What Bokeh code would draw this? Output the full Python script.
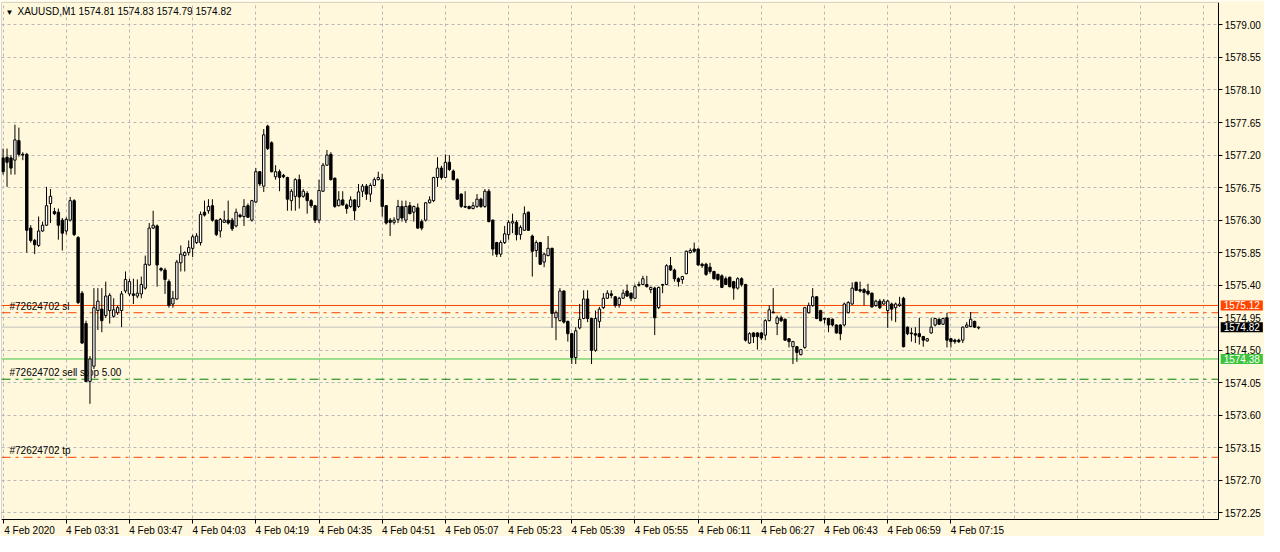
from bokeh.plotting import figure
from bokeh.models import (ColumnDataSource, Span, Label, FixedTicker, Range1d, LinearAxis,
                          PrintfTickFormatter, BoxAnnotation)
from bokeh.embed import file_html
from bokeh.resources import INLINE

# ---------------- data (XAUUSD, M1, 4 Feb 2020 03:15 .. 07:22) ----------------
symbol = "XAUUSD,M1"
minute = list(range(248))  # bar index, minutes after 03:15

open_ = [
    1577.16, 1577.17, 1577.16, 1577.13, 1577.40, 1577.21, 1577.21, 1576.19, 1576.02, 1575.95,
    1576.15, 1576.23, 1576.53, 1576.42, 1576.41, 1576.30, 1576.15, 1576.30, 1576.57, 1576.06,
    1575.29, 1574.87, 1574.07, 1574.28, 1575.05, 1575.07, 1574.98, 1575.05, 1574.97, 1575.02,
    1575.05, 1575.32, 1575.28, 1575.28, 1575.25, 1575.28, 1575.36, 1575.68, 1576.19, 1576.22,
    1575.63, 1575.61, 1575.45, 1575.14, 1575.21, 1575.71, 1575.81, 1575.85, 1575.91, 1575.99,
    1575.99, 1576.41, 1576.43, 1576.50, 1576.30, 1576.15, 1576.27, 1576.30, 1576.30, 1576.22,
    1576.37, 1576.35, 1576.50, 1576.30, 1576.55, 1576.97, 1576.77, 1577.60, 1577.37, 1576.90,
    1576.97, 1576.92, 1576.89, 1576.57, 1576.63, 1576.86, 1576.63, 1576.67, 1576.57, 1576.50,
    1576.30, 1576.70, 1577.06, 1577.21, 1576.88, 1576.50, 1576.58, 1576.51, 1576.49, 1576.58,
    1576.49, 1576.70, 1576.77, 1576.66, 1576.78, 1576.86, 1576.86, 1576.50, 1576.30, 1576.27,
    1576.31, 1576.49, 1576.30, 1576.50, 1576.41, 1576.47, 1576.28, 1576.30, 1576.54, 1576.57,
    1576.89, 1577.02, 1576.89, 1577.10, 1576.98, 1576.86, 1576.66, 1576.49, 1576.49, 1576.46,
    1576.49, 1576.59, 1576.49, 1576.70, 1576.30, 1575.99, 1575.83, 1575.99, 1576.10, 1576.26,
    1576.27, 1576.10, 1576.16, 1576.41, 1576.08, 1575.88, 1575.99, 1575.72, 1575.81, 1575.91,
    1574.95, 1574.91, 1575.32, 1574.90, 1574.73, 1574.40, 1574.81, 1574.94, 1575.21, 1574.94,
    1574.50, 1574.90, 1575.09, 1575.22, 1575.28, 1575.24, 1575.13, 1575.22, 1575.32, 1575.29,
    1575.22, 1575.41, 1575.41, 1575.41, 1575.34, 1575.36, 1575.09, 1575.40, 1575.41, 1575.67,
    1575.61, 1575.49, 1575.48, 1575.56, 1575.85, 1575.90, 1575.90, 1575.69, 1575.69, 1575.65,
    1575.59, 1575.55, 1575.53, 1575.49, 1575.51, 1575.45, 1575.36, 1575.49, 1575.41, 1574.60,
    1574.74, 1574.74, 1574.74, 1574.71, 1574.91, 1575.03, 1574.87, 1574.95, 1574.93, 1574.66,
    1574.55, 1574.55, 1574.44, 1574.54, 1575.02, 1575.12, 1575.24, 1575.05, 1574.94, 1574.94,
    1574.93, 1574.85, 1574.85, 1574.85, 1575.02, 1575.14, 1575.44, 1575.34, 1575.34, 1575.32,
    1575.29, 1575.12, 1575.18, 1575.14, 1575.05, 1575.14, 1575.09, 1575.12, 1575.22, 1574.82,
    1574.74, 1574.73, 1574.73, 1574.69, 1574.63, 1574.74, 1574.85, 1574.93, 1574.86, 1574.95,
    1574.66, 1574.64, 1574.64, 1574.64, 1574.82, 1574.83, 1574.90, 1574.81,
]
high = [
    1577.29, 1577.29, 1577.20, 1577.62, 1577.58, 1577.24, 1577.23, 1576.23, 1576.04, 1576.35,
    1576.28, 1576.76, 1576.73, 1576.47, 1576.46, 1576.33, 1576.34, 1576.62, 1576.59, 1576.08,
    1575.32, 1574.91, 1574.42, 1575.36, 1575.36, 1575.36, 1575.45, 1575.29, 1575.22, 1575.12,
    1575.32, 1575.59, 1575.49, 1575.49, 1575.48, 1575.52, 1575.81, 1576.26, 1576.43, 1576.24,
    1575.65, 1575.64, 1575.48, 1575.32, 1575.75, 1575.95, 1575.87, 1576.02, 1576.10, 1576.12,
    1576.42, 1576.57, 1576.59, 1576.59, 1576.31, 1576.33, 1576.43, 1576.57, 1576.33, 1576.46,
    1576.39, 1576.59, 1576.53, 1576.58, 1577.02, 1576.98, 1577.56, 1577.62, 1577.39, 1577.06,
    1577.00, 1576.94, 1576.90, 1576.73, 1576.88, 1576.93, 1576.73, 1576.70, 1576.59, 1576.51,
    1576.86, 1577.09, 1577.27, 1577.24, 1576.89, 1576.70, 1576.70, 1576.53, 1576.63, 1576.59,
    1576.80, 1576.80, 1576.80, 1576.81, 1576.89, 1576.97, 1576.94, 1576.51, 1576.33, 1576.34,
    1576.58, 1576.57, 1576.57, 1576.55, 1576.50, 1576.53, 1576.31, 1576.55, 1576.63, 1576.90,
    1577.17, 1577.05, 1577.21, 1577.20, 1577.00, 1576.88, 1576.67, 1576.70, 1576.50, 1576.55,
    1576.66, 1576.61, 1576.73, 1576.73, 1576.31, 1576.00, 1576.02, 1576.22, 1576.30, 1576.39,
    1576.30, 1576.23, 1576.49, 1576.42, 1576.10, 1576.02, 1576.00, 1575.85, 1576.08, 1575.92,
    1575.05, 1575.36, 1575.33, 1574.91, 1574.74, 1574.82, 1575.14, 1575.33, 1575.33, 1574.95,
    1575.05, 1575.10, 1575.29, 1575.33, 1575.33, 1575.25, 1575.24, 1575.34, 1575.41, 1575.30,
    1575.41, 1575.45, 1575.53, 1575.53, 1575.38, 1575.38, 1575.38, 1575.42, 1575.69, 1575.79,
    1575.63, 1575.51, 1575.53, 1575.88, 1575.91, 1575.99, 1575.91, 1575.71, 1575.71, 1575.71,
    1575.60, 1575.56, 1575.55, 1575.52, 1575.52, 1575.46, 1575.51, 1575.51, 1575.42, 1574.75,
    1574.75, 1574.75, 1574.75, 1574.93, 1575.12, 1575.36, 1574.98, 1574.98, 1574.94, 1574.67,
    1574.63, 1574.56, 1574.52, 1575.10, 1575.16, 1575.36, 1575.25, 1575.06, 1574.95, 1574.95,
    1574.94, 1574.86, 1574.86, 1575.16, 1575.18, 1575.44, 1575.45, 1575.45, 1575.36, 1575.42,
    1575.30, 1575.20, 1575.21, 1575.21, 1575.20, 1575.16, 1575.16, 1575.24, 1575.24, 1574.83,
    1574.81, 1574.82, 1574.95, 1574.70, 1574.67, 1574.95, 1574.95, 1574.94, 1574.95, 1575.02,
    1574.67, 1574.66, 1574.66, 1574.83, 1574.89, 1575.03, 1574.91, 1574.83,
]
low = [
    1576.93, 1576.76, 1576.93, 1576.93, 1577.18, 1577.13, 1575.85, 1575.99, 1575.83, 1575.93,
    1576.14, 1576.22, 1576.26, 1576.37, 1576.03, 1575.88, 1576.10, 1576.28, 1576.08, 1575.14,
    1574.59, 1574.06, 1573.76, 1574.24, 1574.78, 1574.75, 1574.95, 1574.87, 1574.95, 1574.99,
    1574.82, 1575.29, 1575.25, 1575.14, 1575.22, 1575.22, 1575.34, 1575.67, 1576.18, 1575.38,
    1575.59, 1575.28, 1575.09, 1575.09, 1575.20, 1575.59, 1575.59, 1575.81, 1575.79, 1575.97,
    1575.95, 1576.35, 1576.39, 1576.28, 1576.08, 1576.06, 1576.26, 1576.24, 1576.15, 1576.20,
    1576.33, 1576.22, 1576.33, 1576.28, 1576.54, 1576.77, 1576.69, 1577.27, 1576.96, 1576.86,
    1576.70, 1576.88, 1576.43, 1576.43, 1576.43, 1576.46, 1576.61, 1576.39, 1576.47, 1576.26,
    1576.26, 1576.69, 1577.05, 1576.85, 1576.47, 1576.49, 1576.50, 1576.39, 1576.47, 1576.30,
    1576.47, 1576.62, 1576.58, 1576.55, 1576.77, 1576.85, 1576.35, 1576.24, 1576.08, 1576.24,
    1576.26, 1576.28, 1576.26, 1576.38, 1576.28, 1576.18, 1576.16, 1576.28, 1576.53, 1576.55,
    1576.76, 1576.86, 1576.88, 1576.98, 1576.85, 1576.58, 1576.47, 1576.47, 1576.45, 1576.45,
    1576.47, 1576.47, 1576.47, 1576.27, 1575.81, 1575.79, 1575.79, 1575.97, 1576.03, 1576.12,
    1576.02, 1576.03, 1576.15, 1576.15, 1575.52, 1575.79, 1575.68, 1575.65, 1575.80, 1574.81,
    1574.64, 1574.90, 1574.87, 1574.62, 1574.31, 1574.31, 1574.79, 1574.93, 1574.89, 1574.31,
    1574.48, 1574.81, 1575.07, 1575.21, 1575.22, 1575.09, 1575.09, 1575.21, 1575.24, 1575.18,
    1575.21, 1575.38, 1575.40, 1575.37, 1575.29, 1574.71, 1575.07, 1575.29, 1575.40, 1575.60,
    1575.45, 1575.38, 1575.42, 1575.55, 1575.84, 1575.85, 1575.67, 1575.64, 1575.53, 1575.56,
    1575.48, 1575.46, 1575.36, 1575.40, 1575.37, 1575.20, 1575.34, 1575.38, 1574.62, 1574.59,
    1574.60, 1574.51, 1574.64, 1574.64, 1574.90, 1575.01, 1574.71, 1574.89, 1574.63, 1574.54,
    1574.31, 1574.34, 1574.43, 1574.52, 1575.01, 1575.10, 1574.93, 1574.90, 1574.87, 1574.75,
    1574.83, 1574.73, 1574.64, 1574.83, 1575.01, 1575.13, 1575.32, 1575.30, 1575.12, 1575.26,
    1575.09, 1575.10, 1575.07, 1575.13, 1574.81, 1574.91, 1574.89, 1575.10, 1574.54, 1574.71,
    1574.62, 1574.60, 1574.58, 1574.55, 1574.62, 1574.73, 1574.83, 1574.85, 1574.85, 1574.54,
    1574.54, 1574.59, 1574.60, 1574.60, 1574.81, 1574.82, 1574.81, 1574.79,
]
close = [
    1576.97, 1577.10, 1577.02, 1577.41, 1577.21, 1577.20, 1576.16, 1576.02, 1575.96, 1576.15,
    1576.23, 1576.50, 1576.63, 1576.39, 1576.23, 1576.12, 1576.31, 1576.57, 1576.10, 1575.16,
    1574.60, 1574.07, 1574.38, 1575.09, 1575.18, 1574.91, 1575.25, 1575.26, 1575.06, 1575.09,
    1575.28, 1575.48, 1575.45, 1575.26, 1575.29, 1575.41, 1575.69, 1576.19, 1576.23, 1575.68,
    1575.61, 1575.48, 1575.12, 1575.22, 1575.72, 1575.83, 1575.85, 1575.92, 1576.07, 1576.08,
    1576.38, 1576.37, 1576.49, 1576.30, 1576.10, 1576.31, 1576.30, 1576.26, 1576.18, 1576.41,
    1576.35, 1576.49, 1576.34, 1576.57, 1576.97, 1576.80, 1577.48, 1577.29, 1576.97, 1576.97,
    1576.89, 1576.90, 1576.59, 1576.70, 1576.86, 1576.62, 1576.70, 1576.57, 1576.50, 1576.30,
    1576.71, 1577.06, 1577.20, 1576.86, 1576.49, 1576.58, 1576.51, 1576.46, 1576.58, 1576.43,
    1576.69, 1576.77, 1576.66, 1576.78, 1576.86, 1576.89, 1576.49, 1576.26, 1576.27, 1576.30,
    1576.49, 1576.33, 1576.49, 1576.39, 1576.49, 1576.19, 1576.19, 1576.54, 1576.58, 1576.89,
    1577.02, 1576.89, 1577.10, 1577.00, 1576.86, 1576.59, 1576.49, 1576.48, 1576.46, 1576.50,
    1576.59, 1576.49, 1576.70, 1576.28, 1575.90, 1575.83, 1575.99, 1576.11, 1576.27, 1576.28,
    1576.10, 1576.20, 1576.39, 1576.16, 1575.87, 1575.99, 1575.69, 1575.83, 1575.91, 1575.01,
    1575.02, 1575.32, 1574.89, 1574.73, 1574.40, 1574.77, 1574.93, 1575.21, 1574.94, 1574.50,
    1574.94, 1575.07, 1575.22, 1575.29, 1575.26, 1575.12, 1575.22, 1575.29, 1575.25, 1575.22,
    1575.38, 1575.40, 1575.49, 1575.38, 1575.37, 1574.95, 1575.37, 1575.41, 1575.67, 1575.61,
    1575.49, 1575.45, 1575.52, 1575.87, 1575.88, 1575.87, 1575.68, 1575.67, 1575.55, 1575.59,
    1575.49, 1575.48, 1575.37, 1575.41, 1575.38, 1575.36, 1575.49, 1575.41, 1574.64, 1574.73,
    1574.69, 1574.69, 1574.67, 1574.91, 1575.06, 1575.02, 1574.95, 1574.91, 1574.64, 1574.62,
    1574.62, 1574.47, 1574.51, 1575.09, 1575.12, 1575.24, 1574.94, 1574.91, 1574.93, 1574.85,
    1574.85, 1574.74, 1574.73, 1575.14, 1575.16, 1575.36, 1575.33, 1575.32, 1575.30, 1575.28,
    1575.10, 1575.18, 1575.09, 1575.18, 1575.18, 1575.07, 1575.14, 1575.14, 1574.55, 1574.73,
    1574.73, 1574.71, 1574.69, 1574.64, 1574.66, 1574.82, 1574.94, 1574.86, 1574.94, 1574.64,
    1574.62, 1574.62, 1574.62, 1574.82, 1574.85, 1574.93, 1574.82, 1574.82,
]

tick_minutes = [0, 16, 32, 48, 64, 80, 96, 112, 128, 144, 160, 176, 192, 208, 224, 240]
tick_labels = ["4 Feb 2020", "4 Feb 03:31", "4 Feb 03:47", "4 Feb 04:03", "4 Feb 04:19",
               "4 Feb 04:35", "4 Feb 04:51", "4 Feb 05:07", "4 Feb 05:23", "4 Feb 05:39",
               "4 Feb 05:55", "4 Feb 06:11", "4 Feb 06:27", "4 Feb 06:43", "4 Feb 06:59",
               "4 Feb 07:15"]
grid_minutes = [0, 16, 32, 48, 64, 80, 96, 112, 128, 144, 160, 176, 192, 208, 224, 240,
                256, 272, 288, 304]
price_ticks = [1572.25, 1572.70, 1573.15, 1573.60, 1574.05, 1574.50, 1574.95, 1575.40,
               1575.85, 1576.30, 1576.75, 1577.20, 1577.65, 1578.10, 1578.55, 1579.00]

# horizontal levels
level_prices = [1575.12, 1574.82, 1574.38]           # solid lines with price tags
level_colors = ["#FF4500", "#C0C0C0", "#3CC43C"]
tag_colors = ["#FF4500", "#000000", "#3CC43C"]
order_prices = [1575.02, 1574.10, 1573.02]           # dash-dot order lines
order_colors = ["#FF4500", "#008000", "#FF4500"]
order_texts = ["#72624702 sl", "#72624702 sell stop 5.00", "#72624702 tp"]

# ---------------- figure ----------------
FONT = "Liberation Sans"
FS = "10px"
BG = "#FFF8DC"
X0, XAX, X2 = -0.4, 307.8, 319.4          # left edge, price-axis position, right edge
YB, YAX, Y1 = 1571.925, 1572.16, 1579.31  # bottom edge, time-axis position, top edge
LABEL_SHIFT = 6.7                          # labels start at their tick (MetaTrader style)

p = figure(width=1264, height=536, x_range=Range1d(X0, X2), y_range=Range1d(YB, Y1),
           x_axis_location=None, y_axis_location=None,
           output_backend="svg", toolbar_location=None,
           min_border_left=1, min_border_top=2, min_border_bottom=0, min_border_right=0)
p.background_fill_color = BG
p.border_fill_color = BG
p.outline_line_color = None

p.xgrid.ticker = FixedTicker(ticks=grid_minutes)
p.ygrid.ticker = FixedTicker(ticks=price_ticks)
for g in (p.xgrid, p.ygrid):
    g.grid_line_color = "#B8B8B8"
    g.grid_line_dash = "3 3"
    g.grid_line_width = 1

# time axis: tick marks (minor) at the bars, labels shifted so they start at the tick
label_pos = [m + LABEL_SHIFT for m in tick_minutes]
xax = LinearAxis(fixed_location=YAX, bounds=(X0, XAX),
                 ticker=FixedTicker(ticks=label_pos, minor_ticks=tick_minutes))
xax.major_label_overrides = {pos: lab for pos, lab in zip(label_pos, tick_labels)}
xax.axis_line_color = "black"
xax.major_tick_line_color = None
xax.major_tick_in = 0
xax.major_tick_out = 4
xax.minor_tick_line_color = "black"
xax.minor_tick_in = 0
xax.minor_tick_out = 4
xax.major_label_standoff = 1
xax.major_label_text_font = FONT
xax.major_label_text_font_size = FS
xax.major_label_text_color = "black"
p.add_layout(xax, "below")

# price axis drawn at the right edge of the chart area
yax = LinearAxis(fixed_location=XAX, bounds=(YAX, Y1), ticker=FixedTicker(ticks=price_ticks),
                 formatter=PrintfTickFormatter(format="%.2f"))
yax.axis_line_color = "black"
yax.major_tick_line_color = "black"
yax.minor_tick_line_color = None
yax.major_tick_in = 0
yax.major_tick_out = 4
yax.major_label_standoff = 2
yax.major_label_text_font = FONT
yax.major_label_text_font_size = FS
yax.major_label_text_color = "black"
p.add_layout(yax, "right")

# frame border of the chart area
p.add_layout(BoxAnnotation(right=XAX, bottom=YAX, fill_alpha=0, line_color="black",
                           line_width=1, level="underlay"))

# level lines (behind candles)
for lvl, col in zip(level_prices, level_colors):
    p.add_layout(Span(location=lvl, dimension="width", line_color=col, line_width=1,
                      level="underlay"))
for lvl, col, txt in zip(order_prices, order_colors, order_texts):
    p.add_layout(Span(location=lvl, dimension="width", line_color=col, line_width=1,
                      line_dash="9 5 3 5", level="underlay"))
    p.add_layout(Label(x=X0, y=lvl, x_offset=8, y_offset=1, text=txt, text_font=FONT,
                       text_font_size=FS, text_color="black", text_baseline="bottom",
                       level="underlay"))

# candles
src = ColumnDataSource(dict(
    x=minute, open=open_, high=high, low=low, close=close,
    top=[max(o, c) for o, c in zip(open_, close)],
    bottom=[min(o, c) for o, c in zip(open_, close)],
    fill=["white" if c >= o else "black" for o, c in zip(open_, close)],
))
p.segment(x0="x", y0="high", x1="x", y1="low", source=src, line_color="black", line_width=1)
p.vbar(x="x", width=0.6, top="top", bottom="bottom", source=src, fill_color="fill",
       line_color="black", line_width=1)

# blank the scale strips (grid and level lines stop at the axes)
p.add_layout(BoxAnnotation(left=XAX, fill_color=BG, fill_alpha=1, line_alpha=0, level="glyph"))
p.add_layout(BoxAnnotation(top=YAX, fill_color=BG, fill_alpha=1, line_alpha=0, level="glyph"))

# price tags on the axis
for lvl, col in zip(level_prices, tag_colors):
    p.add_layout(Label(x=XAX, y=lvl, x_offset=2, text=f"{lvl:.2f}", text_font=FONT,
                       text_font_size=FS, text_color="white", text_baseline="middle",
                       text_align="left", background_fill_color=col,
                       padding=dict(left=3, right=3, top=1, bottom=1)))

# header
p.add_layout(Label(x=X0, y=Y1, x_offset=4, y_offset=-5, text="\u25bc", text_font=FONT,
                   text_font_size="8px", text_color="black", text_baseline="top"))
header = f"{symbol}  {open_[-1]:.2f} {high[-1]:.2f} {low[-1]:.2f} {close[-1]:.2f}"
p.add_layout(Label(x=X0, y=Y1, x_offset=16, y_offset=-3, text=header, text_font=FONT,
                   text_font_size=FS, text_color="black", text_baseline="top"))

open("out.html", "w").write(file_html(p, INLINE))
